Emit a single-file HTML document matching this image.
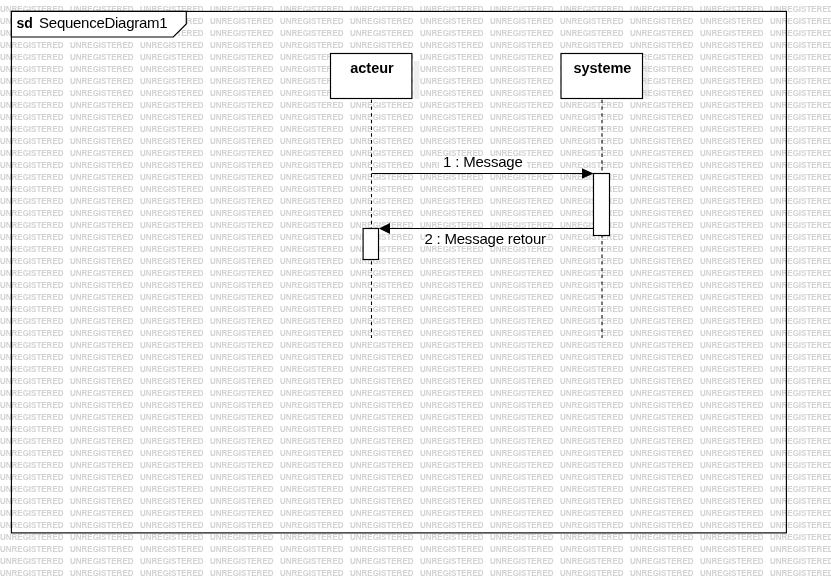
<!DOCTYPE html>
<html><head><meta charset="utf-8"><title>SequenceDiagram1</title>
<style>
html,body{margin:0;padding:0;background:#fff;}
body{width:831px;height:577px;overflow:hidden;position:relative;font-family:"Liberation Sans",sans-serif;}
svg{position:absolute;left:0;top:0;will-change:transform;}
.wm text{font-family:"Liberation Sans",sans-serif;font-size:8.6px;font-weight:bold;fill:#d2d2d2;}
.t{font-family:"Liberation Sans",sans-serif;font-size:15px;letter-spacing:-0.2px;fill:#000;}
.b{font-weight:bold;}
</style></head><body>
<svg width="831" height="577" viewBox="0 0 831 577">
<defs><filter id="bl" x="-50%" y="-20%" width="200%" height="140%"><feGaussianBlur stdDeviation="0.5"/></filter></defs>
<!-- shadows -->
<rect x="413.8" y="61" width="5.6" height="38" fill="#eeeeee" filter="url(#bl)"/>
<rect x="643.8" y="61" width="5.6" height="38" fill="#f1f1f1" filter="url(#bl)"/>
<g class="wm">
<text transform="translate(0,12) scale(0.93,1)">UNREGISTERED</text>
<text transform="translate(70,12) scale(0.93,1)">UNREGISTERED</text>
<text transform="translate(140,12) scale(0.93,1)">UNREGISTERED</text>
<text transform="translate(210,12) scale(0.93,1)">UNREGISTERED</text>
<text transform="translate(280,12) scale(0.93,1)">UNREGISTERED</text>
<text transform="translate(350,12) scale(0.93,1)">UNREGISTERED</text>
<text transform="translate(420,12) scale(0.93,1)">UNREGISTERED</text>
<text transform="translate(490,12) scale(0.93,1)">UNREGISTERED</text>
<text transform="translate(560,12) scale(0.93,1)">UNREGISTERED</text>
<text transform="translate(630,12) scale(0.93,1)">UNREGISTERED</text>
<text transform="translate(700,12) scale(0.93,1)">UNREGISTERED</text>
<text transform="translate(770,12) scale(0.93,1)">UNREGISTERED</text>
<text transform="translate(0,24) scale(0.93,1)">UNREGISTERED</text>
<text transform="translate(70,24) scale(0.93,1)">UNREGISTERED</text>
<text transform="translate(140,24) scale(0.93,1)">UNREGISTERED</text>
<text transform="translate(210,24) scale(0.93,1)">UNREGISTERED</text>
<text transform="translate(280,24) scale(0.93,1)">UNREGISTERED</text>
<text transform="translate(350,24) scale(0.93,1)">UNREGISTERED</text>
<text transform="translate(420,24) scale(0.93,1)">UNREGISTERED</text>
<text transform="translate(490,24) scale(0.93,1)">UNREGISTERED</text>
<text transform="translate(560,24) scale(0.93,1)">UNREGISTERED</text>
<text transform="translate(630,24) scale(0.93,1)">UNREGISTERED</text>
<text transform="translate(700,24) scale(0.93,1)">UNREGISTERED</text>
<text transform="translate(770,24) scale(0.93,1)">UNREGISTERED</text>
<text transform="translate(0,36) scale(0.93,1)">UNREGISTERED</text>
<text transform="translate(70,36) scale(0.93,1)">UNREGISTERED</text>
<text transform="translate(140,36) scale(0.93,1)">UNREGISTERED</text>
<text transform="translate(210,36) scale(0.93,1)">UNREGISTERED</text>
<text transform="translate(280,36) scale(0.93,1)">UNREGISTERED</text>
<text transform="translate(350,36) scale(0.93,1)">UNREGISTERED</text>
<text transform="translate(420,36) scale(0.93,1)">UNREGISTERED</text>
<text transform="translate(490,36) scale(0.93,1)">UNREGISTERED</text>
<text transform="translate(560,36) scale(0.93,1)">UNREGISTERED</text>
<text transform="translate(630,36) scale(0.93,1)">UNREGISTERED</text>
<text transform="translate(700,36) scale(0.93,1)">UNREGISTERED</text>
<text transform="translate(770,36) scale(0.93,1)">UNREGISTERED</text>
<text transform="translate(0,48) scale(0.93,1)">UNREGISTERED</text>
<text transform="translate(70,48) scale(0.93,1)">UNREGISTERED</text>
<text transform="translate(140,48) scale(0.93,1)">UNREGISTERED</text>
<text transform="translate(210,48) scale(0.93,1)">UNREGISTERED</text>
<text transform="translate(280,48) scale(0.93,1)">UNREGISTERED</text>
<text transform="translate(350,48) scale(0.93,1)">UNREGISTERED</text>
<text transform="translate(420,48) scale(0.93,1)">UNREGISTERED</text>
<text transform="translate(490,48) scale(0.93,1)">UNREGISTERED</text>
<text transform="translate(560,48) scale(0.93,1)">UNREGISTERED</text>
<text transform="translate(630,48) scale(0.93,1)">UNREGISTERED</text>
<text transform="translate(700,48) scale(0.93,1)">UNREGISTERED</text>
<text transform="translate(770,48) scale(0.93,1)">UNREGISTERED</text>
<text transform="translate(0,60) scale(0.93,1)">UNREGISTERED</text>
<text transform="translate(70,60) scale(0.93,1)">UNREGISTERED</text>
<text transform="translate(140,60) scale(0.93,1)">UNREGISTERED</text>
<text transform="translate(210,60) scale(0.93,1)">UNREGISTERED</text>
<text transform="translate(280,60) scale(0.93,1)">UNREGISTERED</text>
<text transform="translate(350,60) scale(0.93,1)">UNREGISTERED</text>
<text transform="translate(420,60) scale(0.93,1)">UNREGISTERED</text>
<text transform="translate(490,60) scale(0.93,1)">UNREGISTERED</text>
<text transform="translate(560,60) scale(0.93,1)">UNREGISTERED</text>
<text transform="translate(630,60) scale(0.93,1)">UNREGISTERED</text>
<text transform="translate(700,60) scale(0.93,1)">UNREGISTERED</text>
<text transform="translate(770,60) scale(0.93,1)">UNREGISTERED</text>
<text transform="translate(0,72) scale(0.93,1)">UNREGISTERED</text>
<text transform="translate(70,72) scale(0.93,1)">UNREGISTERED</text>
<text transform="translate(140,72) scale(0.93,1)">UNREGISTERED</text>
<text transform="translate(210,72) scale(0.93,1)">UNREGISTERED</text>
<text transform="translate(280,72) scale(0.93,1)">UNREGISTERED</text>
<text transform="translate(350,72) scale(0.93,1)">UNREGISTERED</text>
<text transform="translate(420,72) scale(0.93,1)">UNREGISTERED</text>
<text transform="translate(490,72) scale(0.93,1)">UNREGISTERED</text>
<text transform="translate(560,72) scale(0.93,1)">UNREGISTERED</text>
<text transform="translate(630,72) scale(0.93,1)">UNREGISTERED</text>
<text transform="translate(700,72) scale(0.93,1)">UNREGISTERED</text>
<text transform="translate(770,72) scale(0.93,1)">UNREGISTERED</text>
<text transform="translate(0,84) scale(0.93,1)">UNREGISTERED</text>
<text transform="translate(70,84) scale(0.93,1)">UNREGISTERED</text>
<text transform="translate(140,84) scale(0.93,1)">UNREGISTERED</text>
<text transform="translate(210,84) scale(0.93,1)">UNREGISTERED</text>
<text transform="translate(280,84) scale(0.93,1)">UNREGISTERED</text>
<text transform="translate(350,84) scale(0.93,1)">UNREGISTERED</text>
<text transform="translate(420,84) scale(0.93,1)">UNREGISTERED</text>
<text transform="translate(490,84) scale(0.93,1)">UNREGISTERED</text>
<text transform="translate(560,84) scale(0.93,1)">UNREGISTERED</text>
<text transform="translate(630,84) scale(0.93,1)">UNREGISTERED</text>
<text transform="translate(700,84) scale(0.93,1)">UNREGISTERED</text>
<text transform="translate(770,84) scale(0.93,1)">UNREGISTERED</text>
<text transform="translate(0,96) scale(0.93,1)">UNREGISTERED</text>
<text transform="translate(70,96) scale(0.93,1)">UNREGISTERED</text>
<text transform="translate(140,96) scale(0.93,1)">UNREGISTERED</text>
<text transform="translate(210,96) scale(0.93,1)">UNREGISTERED</text>
<text transform="translate(280,96) scale(0.93,1)">UNREGISTERED</text>
<text transform="translate(350,96) scale(0.93,1)">UNREGISTERED</text>
<text transform="translate(420,96) scale(0.93,1)">UNREGISTERED</text>
<text transform="translate(490,96) scale(0.93,1)">UNREGISTERED</text>
<text transform="translate(560,96) scale(0.93,1)">UNREGISTERED</text>
<text transform="translate(630,96) scale(0.93,1)">UNREGISTERED</text>
<text transform="translate(700,96) scale(0.93,1)">UNREGISTERED</text>
<text transform="translate(770,96) scale(0.93,1)">UNREGISTERED</text>
<text transform="translate(0,108) scale(0.93,1)">UNREGISTERED</text>
<text transform="translate(70,108) scale(0.93,1)">UNREGISTERED</text>
<text transform="translate(140,108) scale(0.93,1)">UNREGISTERED</text>
<text transform="translate(210,108) scale(0.93,1)">UNREGISTERED</text>
<text transform="translate(280,108) scale(0.93,1)">UNREGISTERED</text>
<text transform="translate(350,108) scale(0.93,1)">UNREGISTERED</text>
<text transform="translate(420,108) scale(0.93,1)">UNREGISTERED</text>
<text transform="translate(490,108) scale(0.93,1)">UNREGISTERED</text>
<text transform="translate(560,108) scale(0.93,1)">UNREGISTERED</text>
<text transform="translate(630,108) scale(0.93,1)">UNREGISTERED</text>
<text transform="translate(700,108) scale(0.93,1)">UNREGISTERED</text>
<text transform="translate(770,108) scale(0.93,1)">UNREGISTERED</text>
<text transform="translate(0,120) scale(0.93,1)">UNREGISTERED</text>
<text transform="translate(70,120) scale(0.93,1)">UNREGISTERED</text>
<text transform="translate(140,120) scale(0.93,1)">UNREGISTERED</text>
<text transform="translate(210,120) scale(0.93,1)">UNREGISTERED</text>
<text transform="translate(280,120) scale(0.93,1)">UNREGISTERED</text>
<text transform="translate(350,120) scale(0.93,1)">UNREGISTERED</text>
<text transform="translate(420,120) scale(0.93,1)">UNREGISTERED</text>
<text transform="translate(490,120) scale(0.93,1)">UNREGISTERED</text>
<text transform="translate(560,120) scale(0.93,1)">UNREGISTERED</text>
<text transform="translate(630,120) scale(0.93,1)">UNREGISTERED</text>
<text transform="translate(700,120) scale(0.93,1)">UNREGISTERED</text>
<text transform="translate(770,120) scale(0.93,1)">UNREGISTERED</text>
<text transform="translate(0,132) scale(0.93,1)">UNREGISTERED</text>
<text transform="translate(70,132) scale(0.93,1)">UNREGISTERED</text>
<text transform="translate(140,132) scale(0.93,1)">UNREGISTERED</text>
<text transform="translate(210,132) scale(0.93,1)">UNREGISTERED</text>
<text transform="translate(280,132) scale(0.93,1)">UNREGISTERED</text>
<text transform="translate(350,132) scale(0.93,1)">UNREGISTERED</text>
<text transform="translate(420,132) scale(0.93,1)">UNREGISTERED</text>
<text transform="translate(490,132) scale(0.93,1)">UNREGISTERED</text>
<text transform="translate(560,132) scale(0.93,1)">UNREGISTERED</text>
<text transform="translate(630,132) scale(0.93,1)">UNREGISTERED</text>
<text transform="translate(700,132) scale(0.93,1)">UNREGISTERED</text>
<text transform="translate(770,132) scale(0.93,1)">UNREGISTERED</text>
<text transform="translate(0,144) scale(0.93,1)">UNREGISTERED</text>
<text transform="translate(70,144) scale(0.93,1)">UNREGISTERED</text>
<text transform="translate(140,144) scale(0.93,1)">UNREGISTERED</text>
<text transform="translate(210,144) scale(0.93,1)">UNREGISTERED</text>
<text transform="translate(280,144) scale(0.93,1)">UNREGISTERED</text>
<text transform="translate(350,144) scale(0.93,1)">UNREGISTERED</text>
<text transform="translate(420,144) scale(0.93,1)">UNREGISTERED</text>
<text transform="translate(490,144) scale(0.93,1)">UNREGISTERED</text>
<text transform="translate(560,144) scale(0.93,1)">UNREGISTERED</text>
<text transform="translate(630,144) scale(0.93,1)">UNREGISTERED</text>
<text transform="translate(700,144) scale(0.93,1)">UNREGISTERED</text>
<text transform="translate(770,144) scale(0.93,1)">UNREGISTERED</text>
<text transform="translate(0,156) scale(0.93,1)">UNREGISTERED</text>
<text transform="translate(70,156) scale(0.93,1)">UNREGISTERED</text>
<text transform="translate(140,156) scale(0.93,1)">UNREGISTERED</text>
<text transform="translate(210,156) scale(0.93,1)">UNREGISTERED</text>
<text transform="translate(280,156) scale(0.93,1)">UNREGISTERED</text>
<text transform="translate(350,156) scale(0.93,1)">UNREGISTERED</text>
<text transform="translate(420,156) scale(0.93,1)">UNREGISTERED</text>
<text transform="translate(490,156) scale(0.93,1)">UNREGISTERED</text>
<text transform="translate(560,156) scale(0.93,1)">UNREGISTERED</text>
<text transform="translate(630,156) scale(0.93,1)">UNREGISTERED</text>
<text transform="translate(700,156) scale(0.93,1)">UNREGISTERED</text>
<text transform="translate(770,156) scale(0.93,1)">UNREGISTERED</text>
<text transform="translate(0,168) scale(0.93,1)">UNREGISTERED</text>
<text transform="translate(70,168) scale(0.93,1)">UNREGISTERED</text>
<text transform="translate(140,168) scale(0.93,1)">UNREGISTERED</text>
<text transform="translate(210,168) scale(0.93,1)">UNREGISTERED</text>
<text transform="translate(280,168) scale(0.93,1)">UNREGISTERED</text>
<text transform="translate(350,168) scale(0.93,1)">UNREGISTERED</text>
<text transform="translate(420,168) scale(0.93,1)">UNREGISTERED</text>
<text transform="translate(490,168) scale(0.93,1)">UNREGISTERED</text>
<text transform="translate(560,168) scale(0.93,1)">UNREGISTERED</text>
<text transform="translate(630,168) scale(0.93,1)">UNREGISTERED</text>
<text transform="translate(700,168) scale(0.93,1)">UNREGISTERED</text>
<text transform="translate(770,168) scale(0.93,1)">UNREGISTERED</text>
<text transform="translate(0,180) scale(0.93,1)">UNREGISTERED</text>
<text transform="translate(70,180) scale(0.93,1)">UNREGISTERED</text>
<text transform="translate(140,180) scale(0.93,1)">UNREGISTERED</text>
<text transform="translate(210,180) scale(0.93,1)">UNREGISTERED</text>
<text transform="translate(280,180) scale(0.93,1)">UNREGISTERED</text>
<text transform="translate(350,180) scale(0.93,1)">UNREGISTERED</text>
<text transform="translate(420,180) scale(0.93,1)">UNREGISTERED</text>
<text transform="translate(490,180) scale(0.93,1)">UNREGISTERED</text>
<text transform="translate(560,180) scale(0.93,1)">UNREGISTERED</text>
<text transform="translate(630,180) scale(0.93,1)">UNREGISTERED</text>
<text transform="translate(700,180) scale(0.93,1)">UNREGISTERED</text>
<text transform="translate(770,180) scale(0.93,1)">UNREGISTERED</text>
<text transform="translate(0,192) scale(0.93,1)">UNREGISTERED</text>
<text transform="translate(70,192) scale(0.93,1)">UNREGISTERED</text>
<text transform="translate(140,192) scale(0.93,1)">UNREGISTERED</text>
<text transform="translate(210,192) scale(0.93,1)">UNREGISTERED</text>
<text transform="translate(280,192) scale(0.93,1)">UNREGISTERED</text>
<text transform="translate(350,192) scale(0.93,1)">UNREGISTERED</text>
<text transform="translate(420,192) scale(0.93,1)">UNREGISTERED</text>
<text transform="translate(490,192) scale(0.93,1)">UNREGISTERED</text>
<text transform="translate(560,192) scale(0.93,1)">UNREGISTERED</text>
<text transform="translate(630,192) scale(0.93,1)">UNREGISTERED</text>
<text transform="translate(700,192) scale(0.93,1)">UNREGISTERED</text>
<text transform="translate(770,192) scale(0.93,1)">UNREGISTERED</text>
<text transform="translate(0,204) scale(0.93,1)">UNREGISTERED</text>
<text transform="translate(70,204) scale(0.93,1)">UNREGISTERED</text>
<text transform="translate(140,204) scale(0.93,1)">UNREGISTERED</text>
<text transform="translate(210,204) scale(0.93,1)">UNREGISTERED</text>
<text transform="translate(280,204) scale(0.93,1)">UNREGISTERED</text>
<text transform="translate(350,204) scale(0.93,1)">UNREGISTERED</text>
<text transform="translate(420,204) scale(0.93,1)">UNREGISTERED</text>
<text transform="translate(490,204) scale(0.93,1)">UNREGISTERED</text>
<text transform="translate(560,204) scale(0.93,1)">UNREGISTERED</text>
<text transform="translate(630,204) scale(0.93,1)">UNREGISTERED</text>
<text transform="translate(700,204) scale(0.93,1)">UNREGISTERED</text>
<text transform="translate(770,204) scale(0.93,1)">UNREGISTERED</text>
<text transform="translate(0,216) scale(0.93,1)">UNREGISTERED</text>
<text transform="translate(70,216) scale(0.93,1)">UNREGISTERED</text>
<text transform="translate(140,216) scale(0.93,1)">UNREGISTERED</text>
<text transform="translate(210,216) scale(0.93,1)">UNREGISTERED</text>
<text transform="translate(280,216) scale(0.93,1)">UNREGISTERED</text>
<text transform="translate(350,216) scale(0.93,1)">UNREGISTERED</text>
<text transform="translate(420,216) scale(0.93,1)">UNREGISTERED</text>
<text transform="translate(490,216) scale(0.93,1)">UNREGISTERED</text>
<text transform="translate(560,216) scale(0.93,1)">UNREGISTERED</text>
<text transform="translate(630,216) scale(0.93,1)">UNREGISTERED</text>
<text transform="translate(700,216) scale(0.93,1)">UNREGISTERED</text>
<text transform="translate(770,216) scale(0.93,1)">UNREGISTERED</text>
<text transform="translate(0,228) scale(0.93,1)">UNREGISTERED</text>
<text transform="translate(70,228) scale(0.93,1)">UNREGISTERED</text>
<text transform="translate(140,228) scale(0.93,1)">UNREGISTERED</text>
<text transform="translate(210,228) scale(0.93,1)">UNREGISTERED</text>
<text transform="translate(280,228) scale(0.93,1)">UNREGISTERED</text>
<text transform="translate(350,228) scale(0.93,1)">UNREGISTERED</text>
<text transform="translate(420,228) scale(0.93,1)">UNREGISTERED</text>
<text transform="translate(490,228) scale(0.93,1)">UNREGISTERED</text>
<text transform="translate(560,228) scale(0.93,1)">UNREGISTERED</text>
<text transform="translate(630,228) scale(0.93,1)">UNREGISTERED</text>
<text transform="translate(700,228) scale(0.93,1)">UNREGISTERED</text>
<text transform="translate(770,228) scale(0.93,1)">UNREGISTERED</text>
<text transform="translate(0,240) scale(0.93,1)">UNREGISTERED</text>
<text transform="translate(70,240) scale(0.93,1)">UNREGISTERED</text>
<text transform="translate(140,240) scale(0.93,1)">UNREGISTERED</text>
<text transform="translate(210,240) scale(0.93,1)">UNREGISTERED</text>
<text transform="translate(280,240) scale(0.93,1)">UNREGISTERED</text>
<text transform="translate(350,240) scale(0.93,1)">UNREGISTERED</text>
<text transform="translate(420,240) scale(0.93,1)">UNREGISTERED</text>
<text transform="translate(490,240) scale(0.93,1)">UNREGISTERED</text>
<text transform="translate(560,240) scale(0.93,1)">UNREGISTERED</text>
<text transform="translate(630,240) scale(0.93,1)">UNREGISTERED</text>
<text transform="translate(700,240) scale(0.93,1)">UNREGISTERED</text>
<text transform="translate(770,240) scale(0.93,1)">UNREGISTERED</text>
<text transform="translate(0,252) scale(0.93,1)">UNREGISTERED</text>
<text transform="translate(70,252) scale(0.93,1)">UNREGISTERED</text>
<text transform="translate(140,252) scale(0.93,1)">UNREGISTERED</text>
<text transform="translate(210,252) scale(0.93,1)">UNREGISTERED</text>
<text transform="translate(280,252) scale(0.93,1)">UNREGISTERED</text>
<text transform="translate(350,252) scale(0.93,1)">UNREGISTERED</text>
<text transform="translate(420,252) scale(0.93,1)">UNREGISTERED</text>
<text transform="translate(490,252) scale(0.93,1)">UNREGISTERED</text>
<text transform="translate(560,252) scale(0.93,1)">UNREGISTERED</text>
<text transform="translate(630,252) scale(0.93,1)">UNREGISTERED</text>
<text transform="translate(700,252) scale(0.93,1)">UNREGISTERED</text>
<text transform="translate(770,252) scale(0.93,1)">UNREGISTERED</text>
<text transform="translate(0,264) scale(0.93,1)">UNREGISTERED</text>
<text transform="translate(70,264) scale(0.93,1)">UNREGISTERED</text>
<text transform="translate(140,264) scale(0.93,1)">UNREGISTERED</text>
<text transform="translate(210,264) scale(0.93,1)">UNREGISTERED</text>
<text transform="translate(280,264) scale(0.93,1)">UNREGISTERED</text>
<text transform="translate(350,264) scale(0.93,1)">UNREGISTERED</text>
<text transform="translate(420,264) scale(0.93,1)">UNREGISTERED</text>
<text transform="translate(490,264) scale(0.93,1)">UNREGISTERED</text>
<text transform="translate(560,264) scale(0.93,1)">UNREGISTERED</text>
<text transform="translate(630,264) scale(0.93,1)">UNREGISTERED</text>
<text transform="translate(700,264) scale(0.93,1)">UNREGISTERED</text>
<text transform="translate(770,264) scale(0.93,1)">UNREGISTERED</text>
<text transform="translate(0,276) scale(0.93,1)">UNREGISTERED</text>
<text transform="translate(70,276) scale(0.93,1)">UNREGISTERED</text>
<text transform="translate(140,276) scale(0.93,1)">UNREGISTERED</text>
<text transform="translate(210,276) scale(0.93,1)">UNREGISTERED</text>
<text transform="translate(280,276) scale(0.93,1)">UNREGISTERED</text>
<text transform="translate(350,276) scale(0.93,1)">UNREGISTERED</text>
<text transform="translate(420,276) scale(0.93,1)">UNREGISTERED</text>
<text transform="translate(490,276) scale(0.93,1)">UNREGISTERED</text>
<text transform="translate(560,276) scale(0.93,1)">UNREGISTERED</text>
<text transform="translate(630,276) scale(0.93,1)">UNREGISTERED</text>
<text transform="translate(700,276) scale(0.93,1)">UNREGISTERED</text>
<text transform="translate(770,276) scale(0.93,1)">UNREGISTERED</text>
<text transform="translate(0,288) scale(0.93,1)">UNREGISTERED</text>
<text transform="translate(70,288) scale(0.93,1)">UNREGISTERED</text>
<text transform="translate(140,288) scale(0.93,1)">UNREGISTERED</text>
<text transform="translate(210,288) scale(0.93,1)">UNREGISTERED</text>
<text transform="translate(280,288) scale(0.93,1)">UNREGISTERED</text>
<text transform="translate(350,288) scale(0.93,1)">UNREGISTERED</text>
<text transform="translate(420,288) scale(0.93,1)">UNREGISTERED</text>
<text transform="translate(490,288) scale(0.93,1)">UNREGISTERED</text>
<text transform="translate(560,288) scale(0.93,1)">UNREGISTERED</text>
<text transform="translate(630,288) scale(0.93,1)">UNREGISTERED</text>
<text transform="translate(700,288) scale(0.93,1)">UNREGISTERED</text>
<text transform="translate(770,288) scale(0.93,1)">UNREGISTERED</text>
<text transform="translate(0,300) scale(0.93,1)">UNREGISTERED</text>
<text transform="translate(70,300) scale(0.93,1)">UNREGISTERED</text>
<text transform="translate(140,300) scale(0.93,1)">UNREGISTERED</text>
<text transform="translate(210,300) scale(0.93,1)">UNREGISTERED</text>
<text transform="translate(280,300) scale(0.93,1)">UNREGISTERED</text>
<text transform="translate(350,300) scale(0.93,1)">UNREGISTERED</text>
<text transform="translate(420,300) scale(0.93,1)">UNREGISTERED</text>
<text transform="translate(490,300) scale(0.93,1)">UNREGISTERED</text>
<text transform="translate(560,300) scale(0.93,1)">UNREGISTERED</text>
<text transform="translate(630,300) scale(0.93,1)">UNREGISTERED</text>
<text transform="translate(700,300) scale(0.93,1)">UNREGISTERED</text>
<text transform="translate(770,300) scale(0.93,1)">UNREGISTERED</text>
<text transform="translate(0,312) scale(0.93,1)">UNREGISTERED</text>
<text transform="translate(70,312) scale(0.93,1)">UNREGISTERED</text>
<text transform="translate(140,312) scale(0.93,1)">UNREGISTERED</text>
<text transform="translate(210,312) scale(0.93,1)">UNREGISTERED</text>
<text transform="translate(280,312) scale(0.93,1)">UNREGISTERED</text>
<text transform="translate(350,312) scale(0.93,1)">UNREGISTERED</text>
<text transform="translate(420,312) scale(0.93,1)">UNREGISTERED</text>
<text transform="translate(490,312) scale(0.93,1)">UNREGISTERED</text>
<text transform="translate(560,312) scale(0.93,1)">UNREGISTERED</text>
<text transform="translate(630,312) scale(0.93,1)">UNREGISTERED</text>
<text transform="translate(700,312) scale(0.93,1)">UNREGISTERED</text>
<text transform="translate(770,312) scale(0.93,1)">UNREGISTERED</text>
<text transform="translate(0,324) scale(0.93,1)">UNREGISTERED</text>
<text transform="translate(70,324) scale(0.93,1)">UNREGISTERED</text>
<text transform="translate(140,324) scale(0.93,1)">UNREGISTERED</text>
<text transform="translate(210,324) scale(0.93,1)">UNREGISTERED</text>
<text transform="translate(280,324) scale(0.93,1)">UNREGISTERED</text>
<text transform="translate(350,324) scale(0.93,1)">UNREGISTERED</text>
<text transform="translate(420,324) scale(0.93,1)">UNREGISTERED</text>
<text transform="translate(490,324) scale(0.93,1)">UNREGISTERED</text>
<text transform="translate(560,324) scale(0.93,1)">UNREGISTERED</text>
<text transform="translate(630,324) scale(0.93,1)">UNREGISTERED</text>
<text transform="translate(700,324) scale(0.93,1)">UNREGISTERED</text>
<text transform="translate(770,324) scale(0.93,1)">UNREGISTERED</text>
<text transform="translate(0,336) scale(0.93,1)">UNREGISTERED</text>
<text transform="translate(70,336) scale(0.93,1)">UNREGISTERED</text>
<text transform="translate(140,336) scale(0.93,1)">UNREGISTERED</text>
<text transform="translate(210,336) scale(0.93,1)">UNREGISTERED</text>
<text transform="translate(280,336) scale(0.93,1)">UNREGISTERED</text>
<text transform="translate(350,336) scale(0.93,1)">UNREGISTERED</text>
<text transform="translate(420,336) scale(0.93,1)">UNREGISTERED</text>
<text transform="translate(490,336) scale(0.93,1)">UNREGISTERED</text>
<text transform="translate(560,336) scale(0.93,1)">UNREGISTERED</text>
<text transform="translate(630,336) scale(0.93,1)">UNREGISTERED</text>
<text transform="translate(700,336) scale(0.93,1)">UNREGISTERED</text>
<text transform="translate(770,336) scale(0.93,1)">UNREGISTERED</text>
<text transform="translate(0,348) scale(0.93,1)">UNREGISTERED</text>
<text transform="translate(70,348) scale(0.93,1)">UNREGISTERED</text>
<text transform="translate(140,348) scale(0.93,1)">UNREGISTERED</text>
<text transform="translate(210,348) scale(0.93,1)">UNREGISTERED</text>
<text transform="translate(280,348) scale(0.93,1)">UNREGISTERED</text>
<text transform="translate(350,348) scale(0.93,1)">UNREGISTERED</text>
<text transform="translate(420,348) scale(0.93,1)">UNREGISTERED</text>
<text transform="translate(490,348) scale(0.93,1)">UNREGISTERED</text>
<text transform="translate(560,348) scale(0.93,1)">UNREGISTERED</text>
<text transform="translate(630,348) scale(0.93,1)">UNREGISTERED</text>
<text transform="translate(700,348) scale(0.93,1)">UNREGISTERED</text>
<text transform="translate(770,348) scale(0.93,1)">UNREGISTERED</text>
<text transform="translate(0,360) scale(0.93,1)">UNREGISTERED</text>
<text transform="translate(70,360) scale(0.93,1)">UNREGISTERED</text>
<text transform="translate(140,360) scale(0.93,1)">UNREGISTERED</text>
<text transform="translate(210,360) scale(0.93,1)">UNREGISTERED</text>
<text transform="translate(280,360) scale(0.93,1)">UNREGISTERED</text>
<text transform="translate(350,360) scale(0.93,1)">UNREGISTERED</text>
<text transform="translate(420,360) scale(0.93,1)">UNREGISTERED</text>
<text transform="translate(490,360) scale(0.93,1)">UNREGISTERED</text>
<text transform="translate(560,360) scale(0.93,1)">UNREGISTERED</text>
<text transform="translate(630,360) scale(0.93,1)">UNREGISTERED</text>
<text transform="translate(700,360) scale(0.93,1)">UNREGISTERED</text>
<text transform="translate(770,360) scale(0.93,1)">UNREGISTERED</text>
<text transform="translate(0,372) scale(0.93,1)">UNREGISTERED</text>
<text transform="translate(70,372) scale(0.93,1)">UNREGISTERED</text>
<text transform="translate(140,372) scale(0.93,1)">UNREGISTERED</text>
<text transform="translate(210,372) scale(0.93,1)">UNREGISTERED</text>
<text transform="translate(280,372) scale(0.93,1)">UNREGISTERED</text>
<text transform="translate(350,372) scale(0.93,1)">UNREGISTERED</text>
<text transform="translate(420,372) scale(0.93,1)">UNREGISTERED</text>
<text transform="translate(490,372) scale(0.93,1)">UNREGISTERED</text>
<text transform="translate(560,372) scale(0.93,1)">UNREGISTERED</text>
<text transform="translate(630,372) scale(0.93,1)">UNREGISTERED</text>
<text transform="translate(700,372) scale(0.93,1)">UNREGISTERED</text>
<text transform="translate(770,372) scale(0.93,1)">UNREGISTERED</text>
<text transform="translate(0,384) scale(0.93,1)">UNREGISTERED</text>
<text transform="translate(70,384) scale(0.93,1)">UNREGISTERED</text>
<text transform="translate(140,384) scale(0.93,1)">UNREGISTERED</text>
<text transform="translate(210,384) scale(0.93,1)">UNREGISTERED</text>
<text transform="translate(280,384) scale(0.93,1)">UNREGISTERED</text>
<text transform="translate(350,384) scale(0.93,1)">UNREGISTERED</text>
<text transform="translate(420,384) scale(0.93,1)">UNREGISTERED</text>
<text transform="translate(490,384) scale(0.93,1)">UNREGISTERED</text>
<text transform="translate(560,384) scale(0.93,1)">UNREGISTERED</text>
<text transform="translate(630,384) scale(0.93,1)">UNREGISTERED</text>
<text transform="translate(700,384) scale(0.93,1)">UNREGISTERED</text>
<text transform="translate(770,384) scale(0.93,1)">UNREGISTERED</text>
<text transform="translate(0,396) scale(0.93,1)">UNREGISTERED</text>
<text transform="translate(70,396) scale(0.93,1)">UNREGISTERED</text>
<text transform="translate(140,396) scale(0.93,1)">UNREGISTERED</text>
<text transform="translate(210,396) scale(0.93,1)">UNREGISTERED</text>
<text transform="translate(280,396) scale(0.93,1)">UNREGISTERED</text>
<text transform="translate(350,396) scale(0.93,1)">UNREGISTERED</text>
<text transform="translate(420,396) scale(0.93,1)">UNREGISTERED</text>
<text transform="translate(490,396) scale(0.93,1)">UNREGISTERED</text>
<text transform="translate(560,396) scale(0.93,1)">UNREGISTERED</text>
<text transform="translate(630,396) scale(0.93,1)">UNREGISTERED</text>
<text transform="translate(700,396) scale(0.93,1)">UNREGISTERED</text>
<text transform="translate(770,396) scale(0.93,1)">UNREGISTERED</text>
<text transform="translate(0,408) scale(0.93,1)">UNREGISTERED</text>
<text transform="translate(70,408) scale(0.93,1)">UNREGISTERED</text>
<text transform="translate(140,408) scale(0.93,1)">UNREGISTERED</text>
<text transform="translate(210,408) scale(0.93,1)">UNREGISTERED</text>
<text transform="translate(280,408) scale(0.93,1)">UNREGISTERED</text>
<text transform="translate(350,408) scale(0.93,1)">UNREGISTERED</text>
<text transform="translate(420,408) scale(0.93,1)">UNREGISTERED</text>
<text transform="translate(490,408) scale(0.93,1)">UNREGISTERED</text>
<text transform="translate(560,408) scale(0.93,1)">UNREGISTERED</text>
<text transform="translate(630,408) scale(0.93,1)">UNREGISTERED</text>
<text transform="translate(700,408) scale(0.93,1)">UNREGISTERED</text>
<text transform="translate(770,408) scale(0.93,1)">UNREGISTERED</text>
<text transform="translate(0,420) scale(0.93,1)">UNREGISTERED</text>
<text transform="translate(70,420) scale(0.93,1)">UNREGISTERED</text>
<text transform="translate(140,420) scale(0.93,1)">UNREGISTERED</text>
<text transform="translate(210,420) scale(0.93,1)">UNREGISTERED</text>
<text transform="translate(280,420) scale(0.93,1)">UNREGISTERED</text>
<text transform="translate(350,420) scale(0.93,1)">UNREGISTERED</text>
<text transform="translate(420,420) scale(0.93,1)">UNREGISTERED</text>
<text transform="translate(490,420) scale(0.93,1)">UNREGISTERED</text>
<text transform="translate(560,420) scale(0.93,1)">UNREGISTERED</text>
<text transform="translate(630,420) scale(0.93,1)">UNREGISTERED</text>
<text transform="translate(700,420) scale(0.93,1)">UNREGISTERED</text>
<text transform="translate(770,420) scale(0.93,1)">UNREGISTERED</text>
<text transform="translate(0,432) scale(0.93,1)">UNREGISTERED</text>
<text transform="translate(70,432) scale(0.93,1)">UNREGISTERED</text>
<text transform="translate(140,432) scale(0.93,1)">UNREGISTERED</text>
<text transform="translate(210,432) scale(0.93,1)">UNREGISTERED</text>
<text transform="translate(280,432) scale(0.93,1)">UNREGISTERED</text>
<text transform="translate(350,432) scale(0.93,1)">UNREGISTERED</text>
<text transform="translate(420,432) scale(0.93,1)">UNREGISTERED</text>
<text transform="translate(490,432) scale(0.93,1)">UNREGISTERED</text>
<text transform="translate(560,432) scale(0.93,1)">UNREGISTERED</text>
<text transform="translate(630,432) scale(0.93,1)">UNREGISTERED</text>
<text transform="translate(700,432) scale(0.93,1)">UNREGISTERED</text>
<text transform="translate(770,432) scale(0.93,1)">UNREGISTERED</text>
<text transform="translate(0,444) scale(0.93,1)">UNREGISTERED</text>
<text transform="translate(70,444) scale(0.93,1)">UNREGISTERED</text>
<text transform="translate(140,444) scale(0.93,1)">UNREGISTERED</text>
<text transform="translate(210,444) scale(0.93,1)">UNREGISTERED</text>
<text transform="translate(280,444) scale(0.93,1)">UNREGISTERED</text>
<text transform="translate(350,444) scale(0.93,1)">UNREGISTERED</text>
<text transform="translate(420,444) scale(0.93,1)">UNREGISTERED</text>
<text transform="translate(490,444) scale(0.93,1)">UNREGISTERED</text>
<text transform="translate(560,444) scale(0.93,1)">UNREGISTERED</text>
<text transform="translate(630,444) scale(0.93,1)">UNREGISTERED</text>
<text transform="translate(700,444) scale(0.93,1)">UNREGISTERED</text>
<text transform="translate(770,444) scale(0.93,1)">UNREGISTERED</text>
<text transform="translate(0,456) scale(0.93,1)">UNREGISTERED</text>
<text transform="translate(70,456) scale(0.93,1)">UNREGISTERED</text>
<text transform="translate(140,456) scale(0.93,1)">UNREGISTERED</text>
<text transform="translate(210,456) scale(0.93,1)">UNREGISTERED</text>
<text transform="translate(280,456) scale(0.93,1)">UNREGISTERED</text>
<text transform="translate(350,456) scale(0.93,1)">UNREGISTERED</text>
<text transform="translate(420,456) scale(0.93,1)">UNREGISTERED</text>
<text transform="translate(490,456) scale(0.93,1)">UNREGISTERED</text>
<text transform="translate(560,456) scale(0.93,1)">UNREGISTERED</text>
<text transform="translate(630,456) scale(0.93,1)">UNREGISTERED</text>
<text transform="translate(700,456) scale(0.93,1)">UNREGISTERED</text>
<text transform="translate(770,456) scale(0.93,1)">UNREGISTERED</text>
<text transform="translate(0,468) scale(0.93,1)">UNREGISTERED</text>
<text transform="translate(70,468) scale(0.93,1)">UNREGISTERED</text>
<text transform="translate(140,468) scale(0.93,1)">UNREGISTERED</text>
<text transform="translate(210,468) scale(0.93,1)">UNREGISTERED</text>
<text transform="translate(280,468) scale(0.93,1)">UNREGISTERED</text>
<text transform="translate(350,468) scale(0.93,1)">UNREGISTERED</text>
<text transform="translate(420,468) scale(0.93,1)">UNREGISTERED</text>
<text transform="translate(490,468) scale(0.93,1)">UNREGISTERED</text>
<text transform="translate(560,468) scale(0.93,1)">UNREGISTERED</text>
<text transform="translate(630,468) scale(0.93,1)">UNREGISTERED</text>
<text transform="translate(700,468) scale(0.93,1)">UNREGISTERED</text>
<text transform="translate(770,468) scale(0.93,1)">UNREGISTERED</text>
<text transform="translate(0,480) scale(0.93,1)">UNREGISTERED</text>
<text transform="translate(70,480) scale(0.93,1)">UNREGISTERED</text>
<text transform="translate(140,480) scale(0.93,1)">UNREGISTERED</text>
<text transform="translate(210,480) scale(0.93,1)">UNREGISTERED</text>
<text transform="translate(280,480) scale(0.93,1)">UNREGISTERED</text>
<text transform="translate(350,480) scale(0.93,1)">UNREGISTERED</text>
<text transform="translate(420,480) scale(0.93,1)">UNREGISTERED</text>
<text transform="translate(490,480) scale(0.93,1)">UNREGISTERED</text>
<text transform="translate(560,480) scale(0.93,1)">UNREGISTERED</text>
<text transform="translate(630,480) scale(0.93,1)">UNREGISTERED</text>
<text transform="translate(700,480) scale(0.93,1)">UNREGISTERED</text>
<text transform="translate(770,480) scale(0.93,1)">UNREGISTERED</text>
<text transform="translate(0,492) scale(0.93,1)">UNREGISTERED</text>
<text transform="translate(70,492) scale(0.93,1)">UNREGISTERED</text>
<text transform="translate(140,492) scale(0.93,1)">UNREGISTERED</text>
<text transform="translate(210,492) scale(0.93,1)">UNREGISTERED</text>
<text transform="translate(280,492) scale(0.93,1)">UNREGISTERED</text>
<text transform="translate(350,492) scale(0.93,1)">UNREGISTERED</text>
<text transform="translate(420,492) scale(0.93,1)">UNREGISTERED</text>
<text transform="translate(490,492) scale(0.93,1)">UNREGISTERED</text>
<text transform="translate(560,492) scale(0.93,1)">UNREGISTERED</text>
<text transform="translate(630,492) scale(0.93,1)">UNREGISTERED</text>
<text transform="translate(700,492) scale(0.93,1)">UNREGISTERED</text>
<text transform="translate(770,492) scale(0.93,1)">UNREGISTERED</text>
<text transform="translate(0,504) scale(0.93,1)">UNREGISTERED</text>
<text transform="translate(70,504) scale(0.93,1)">UNREGISTERED</text>
<text transform="translate(140,504) scale(0.93,1)">UNREGISTERED</text>
<text transform="translate(210,504) scale(0.93,1)">UNREGISTERED</text>
<text transform="translate(280,504) scale(0.93,1)">UNREGISTERED</text>
<text transform="translate(350,504) scale(0.93,1)">UNREGISTERED</text>
<text transform="translate(420,504) scale(0.93,1)">UNREGISTERED</text>
<text transform="translate(490,504) scale(0.93,1)">UNREGISTERED</text>
<text transform="translate(560,504) scale(0.93,1)">UNREGISTERED</text>
<text transform="translate(630,504) scale(0.93,1)">UNREGISTERED</text>
<text transform="translate(700,504) scale(0.93,1)">UNREGISTERED</text>
<text transform="translate(770,504) scale(0.93,1)">UNREGISTERED</text>
<text transform="translate(0,516) scale(0.93,1)">UNREGISTERED</text>
<text transform="translate(70,516) scale(0.93,1)">UNREGISTERED</text>
<text transform="translate(140,516) scale(0.93,1)">UNREGISTERED</text>
<text transform="translate(210,516) scale(0.93,1)">UNREGISTERED</text>
<text transform="translate(280,516) scale(0.93,1)">UNREGISTERED</text>
<text transform="translate(350,516) scale(0.93,1)">UNREGISTERED</text>
<text transform="translate(420,516) scale(0.93,1)">UNREGISTERED</text>
<text transform="translate(490,516) scale(0.93,1)">UNREGISTERED</text>
<text transform="translate(560,516) scale(0.93,1)">UNREGISTERED</text>
<text transform="translate(630,516) scale(0.93,1)">UNREGISTERED</text>
<text transform="translate(700,516) scale(0.93,1)">UNREGISTERED</text>
<text transform="translate(770,516) scale(0.93,1)">UNREGISTERED</text>
<text transform="translate(0,528) scale(0.93,1)">UNREGISTERED</text>
<text transform="translate(70,528) scale(0.93,1)">UNREGISTERED</text>
<text transform="translate(140,528) scale(0.93,1)">UNREGISTERED</text>
<text transform="translate(210,528) scale(0.93,1)">UNREGISTERED</text>
<text transform="translate(280,528) scale(0.93,1)">UNREGISTERED</text>
<text transform="translate(350,528) scale(0.93,1)">UNREGISTERED</text>
<text transform="translate(420,528) scale(0.93,1)">UNREGISTERED</text>
<text transform="translate(490,528) scale(0.93,1)">UNREGISTERED</text>
<text transform="translate(560,528) scale(0.93,1)">UNREGISTERED</text>
<text transform="translate(630,528) scale(0.93,1)">UNREGISTERED</text>
<text transform="translate(700,528) scale(0.93,1)">UNREGISTERED</text>
<text transform="translate(770,528) scale(0.93,1)">UNREGISTERED</text>
<text transform="translate(0,540) scale(0.93,1)">UNREGISTERED</text>
<text transform="translate(70,540) scale(0.93,1)">UNREGISTERED</text>
<text transform="translate(140,540) scale(0.93,1)">UNREGISTERED</text>
<text transform="translate(210,540) scale(0.93,1)">UNREGISTERED</text>
<text transform="translate(280,540) scale(0.93,1)">UNREGISTERED</text>
<text transform="translate(350,540) scale(0.93,1)">UNREGISTERED</text>
<text transform="translate(420,540) scale(0.93,1)">UNREGISTERED</text>
<text transform="translate(490,540) scale(0.93,1)">UNREGISTERED</text>
<text transform="translate(560,540) scale(0.93,1)">UNREGISTERED</text>
<text transform="translate(630,540) scale(0.93,1)">UNREGISTERED</text>
<text transform="translate(700,540) scale(0.93,1)">UNREGISTERED</text>
<text transform="translate(770,540) scale(0.93,1)">UNREGISTERED</text>
<text transform="translate(0,552) scale(0.93,1)">UNREGISTERED</text>
<text transform="translate(70,552) scale(0.93,1)">UNREGISTERED</text>
<text transform="translate(140,552) scale(0.93,1)">UNREGISTERED</text>
<text transform="translate(210,552) scale(0.93,1)">UNREGISTERED</text>
<text transform="translate(280,552) scale(0.93,1)">UNREGISTERED</text>
<text transform="translate(350,552) scale(0.93,1)">UNREGISTERED</text>
<text transform="translate(420,552) scale(0.93,1)">UNREGISTERED</text>
<text transform="translate(490,552) scale(0.93,1)">UNREGISTERED</text>
<text transform="translate(560,552) scale(0.93,1)">UNREGISTERED</text>
<text transform="translate(630,552) scale(0.93,1)">UNREGISTERED</text>
<text transform="translate(700,552) scale(0.93,1)">UNREGISTERED</text>
<text transform="translate(770,552) scale(0.93,1)">UNREGISTERED</text>
<text transform="translate(0,564) scale(0.93,1)">UNREGISTERED</text>
<text transform="translate(70,564) scale(0.93,1)">UNREGISTERED</text>
<text transform="translate(140,564) scale(0.93,1)">UNREGISTERED</text>
<text transform="translate(210,564) scale(0.93,1)">UNREGISTERED</text>
<text transform="translate(280,564) scale(0.93,1)">UNREGISTERED</text>
<text transform="translate(350,564) scale(0.93,1)">UNREGISTERED</text>
<text transform="translate(420,564) scale(0.93,1)">UNREGISTERED</text>
<text transform="translate(490,564) scale(0.93,1)">UNREGISTERED</text>
<text transform="translate(560,564) scale(0.93,1)">UNREGISTERED</text>
<text transform="translate(630,564) scale(0.93,1)">UNREGISTERED</text>
<text transform="translate(700,564) scale(0.93,1)">UNREGISTERED</text>
<text transform="translate(770,564) scale(0.93,1)">UNREGISTERED</text>
<text transform="translate(0,576) scale(0.93,1)">UNREGISTERED</text>
<text transform="translate(70,576) scale(0.93,1)">UNREGISTERED</text>
<text transform="translate(140,576) scale(0.93,1)">UNREGISTERED</text>
<text transform="translate(210,576) scale(0.93,1)">UNREGISTERED</text>
<text transform="translate(280,576) scale(0.93,1)">UNREGISTERED</text>
<text transform="translate(350,576) scale(0.93,1)">UNREGISTERED</text>
<text transform="translate(420,576) scale(0.93,1)">UNREGISTERED</text>
<text transform="translate(490,576) scale(0.93,1)">UNREGISTERED</text>
<text transform="translate(560,576) scale(0.93,1)">UNREGISTERED</text>
<text transform="translate(630,576) scale(0.93,1)">UNREGISTERED</text>
<text transform="translate(700,576) scale(0.93,1)">UNREGISTERED</text>
<text transform="translate(770,576) scale(0.93,1)">UNREGISTERED</text>
<text transform="translate(0,588) scale(0.93,1)">UNREGISTERED</text>
<text transform="translate(70,588) scale(0.93,1)">UNREGISTERED</text>
<text transform="translate(140,588) scale(0.93,1)">UNREGISTERED</text>
<text transform="translate(210,588) scale(0.93,1)">UNREGISTERED</text>
<text transform="translate(280,588) scale(0.93,1)">UNREGISTERED</text>
<text transform="translate(350,588) scale(0.93,1)">UNREGISTERED</text>
<text transform="translate(420,588) scale(0.93,1)">UNREGISTERED</text>
<text transform="translate(490,588) scale(0.93,1)">UNREGISTERED</text>
<text transform="translate(560,588) scale(0.93,1)">UNREGISTERED</text>
<text transform="translate(630,588) scale(0.93,1)">UNREGISTERED</text>
<text transform="translate(700,588) scale(0.93,1)">UNREGISTERED</text>
<text transform="translate(770,588) scale(0.93,1)">UNREGISTERED</text>
</g>
<!-- frame -->
<rect x="11.4" y="11.4" width="775" height="521.5" fill="none" stroke="#000" stroke-width="1.15"/>
<path d="M11.4 11.4 H186.3 V24 L173.3 37 H11.4 Z" fill="#fff" stroke="#000" stroke-width="1.15"/>
<text class="t b" x="16.5" y="28" style="font-size:14px;letter-spacing:0">sd</text>
<text class="t" x="39.1" y="27.5" style="letter-spacing:-0.27px">SequenceDiagram1</text>
<!-- lifelines -->
<line x1="371.5" y1="99" x2="371.5" y2="338" stroke="#000" stroke-width="1.05" stroke-dasharray="3.4 3.33" stroke-dashoffset="-0.7"/>
<line x1="602" y1="99" x2="602" y2="338" stroke="#000" stroke-width="1.05" stroke-dasharray="3.4 3.33" stroke-dashoffset="-0.7"/>
<rect x="330.5" y="53.5" width="81.4" height="45" fill="#fff" stroke="#000" stroke-width="1.15"/>
<text class="t b" x="372" y="72.5" text-anchor="middle" style="font-size:14.5px;letter-spacing:0">acteur</text>
<rect x="561.0" y="53.5" width="81.5" height="45" fill="#fff" stroke="#000" stroke-width="1.15"/>
<text class="t b" x="602.4" y="72.9" text-anchor="middle" style="font-size:14.5px;letter-spacing:0">systeme</text>
<!-- activations -->
<rect x="593.5" y="173.5" width="16" height="62" fill="#fff" stroke="#000" stroke-width="1.15"/>
<rect x="363.1" y="228.5" width="15.4" height="31" fill="#fff" stroke="#000" stroke-width="1.15"/>
<!-- message 1 -->
<line x1="371.5" y1="173.5" x2="586" y2="173.5" stroke="#000" stroke-width="1.15"/>
<path d="M582 168.2 L593.6 173.5 L582 178.7 Z" fill="#000"/>
<rect x="438.9" y="156" width="87.2" height="16" fill="#fff"/>
<text class="t" x="443.1" y="166.8">1 : Message</text>
<!-- message 2 -->
<line x1="385" y1="228.5" x2="593.5" y2="228.5" stroke="#000" stroke-width="1.15"/>
<path d="M390 223.1 L378.9 228.5 L390 233.9 Z" fill="#000"/>
<rect x="424.5" y="231" width="121.5" height="15" fill="#fff"/>
<text class="t" x="424.4" y="244">2 : Message retour</text>
</svg>
</body></html>
